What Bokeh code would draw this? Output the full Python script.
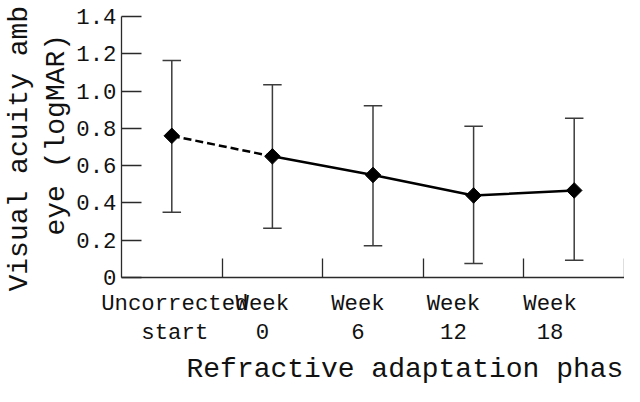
import numpy as np
from bokeh.plotting import figure
from bokeh.models import (Range1d, FixedTicker, CustomJSTickFormatter, Whisker,
                          TeeHead, ColumnDataSource, Title)
from bokeh.embed import file_html
from bokeh.resources import INLINE

# ---- data ----
CATEGORIES = ["Uncorrected\nstart", "Week\n0", "Week\n6", "Week\n12", "Week\n18"]
MEAN = [0.76, 0.65, 0.55, 0.44, 0.467]
UPPER = [1.164, 1.034, 0.922, 0.812, 0.854]
LOWER = [0.350, 0.264, 0.170, 0.075, 0.093]
Y_TICKS = [0, 0.2, 0.4, 0.6, 0.8, 1.0, 1.2, 1.4]
Y_TICK_LABELS = ["0", "0.2", "0.4", "0.6", "0.8", "1.0", "1.2", "1.4"]
Y_TITLE_1 = "Visual acuity amb"
Y_TITLE_2 = "eye (logMAR)"
X_TITLE = "Refractive adaptation phas"

# ---- layout/style ----
LABEL_NUDGE = [0.03, -0.10, -0.15, -0.20, -0.24]
FONT = "Liberation Mono"
AX = "#2a2a2a"
TXT = "#111111"
TICK_FS = "22.3px"
TITLE_FS = "28px"

n = len(CATEGORIES)
xc = np.arange(n) + 0.5
label_pos = list(xc + np.array(LABEL_NUDGE))
bounds = list(np.arange(1, n + 1).astype(float))

p = figure(width=624, height=386, x_range=Range1d(0, 5.0), y_range=Range1d(0, 1.4001),
           output_backend="svg", toolbar_location=None,
           min_border_left=120, min_border_right=0, min_border_top=16, min_border_bottom=100)
p.outline_line_color = None
p.xgrid.visible = False
p.ygrid.visible = False
p.background_fill_color = "white"

src = ColumnDataSource(dict(x=xc, y=MEAN, upper=UPPER, lower=LOWER))
w = Whisker(base="x", upper="upper", lower="lower", source=src,
            line_color="#3c3c3c", line_width=1.5, level="underlay",
            upper_head=TeeHead(size=18.5, line_color="#3c3c3c", line_width=1.5),
            lower_head=TeeHead(size=18.5, line_color="#3c3c3c", line_width=1.5))
p.add_layout(w)

p.line(xc[:2], MEAN[:2], line_color="black", line_width=2.5, line_dash="8 4")
p.line(xc[1:], MEAN[1:], line_color="black", line_width=2.5)
p.scatter(xc, MEAN, marker="square", angle=np.pi / 4, size=11,
          fill_color="black", line_color="black")

# x axis
xa = p.xaxis[0]
xa.ticker = FixedTicker(ticks=label_pos, minor_ticks=bounds)
xa.formatter = CustomJSTickFormatter(args=dict(labels=CATEGORIES), code="return labels[index]")
xa.major_tick_in = 0
xa.major_tick_out = 0
xa.major_tick_line_color = None
xa.minor_tick_in = 19
xa.minor_tick_out = 0
xa.minor_tick_line_color = AX
xa.minor_tick_line_width = 1.3
xa.axis_line_color = AX
xa.axis_line_width = 1.3
xa.major_label_text_font = FONT
xa.major_label_text_font_size = TICK_FS
xa.major_label_text_color = TXT
xa.major_label_text_line_height = 1.15
xa.major_label_standoff = 13

# y axis
ya = p.yaxis[0]
ya.ticker = FixedTicker(ticks=Y_TICKS, minor_ticks=[])
ya.formatter = CustomJSTickFormatter(args=dict(labels=Y_TICK_LABELS), code="return labels[index]")
ya.major_tick_in = 20
ya.major_tick_out = 0
ya.major_tick_line_color = AX
ya.major_tick_line_width = 1.3
ya.minor_tick_line_color = None
ya.axis_line_color = AX
ya.axis_line_width = 1.3
ya.major_label_text_font = FONT
ya.major_label_text_font_size = TICK_FS
ya.major_label_text_color = TXT
ya.major_label_standoff = 5

# axis titles
common = dict(text_font=FONT, text_font_size=TITLE_FS, text_color=TXT,
              text_font_style="normal", align="left")
p.add_layout(Title(text=Y_TITLE_2, offset=42, standoff=4, **common), "left")
p.add_layout(Title(text=Y_TITLE_1, offset=-14, standoff=3, **common), "left")
p.add_layout(Title(text=X_TITLE, offset=65, standoff=4, **common), "below")

open("out.html", "w").write(file_html(p, INLINE))
